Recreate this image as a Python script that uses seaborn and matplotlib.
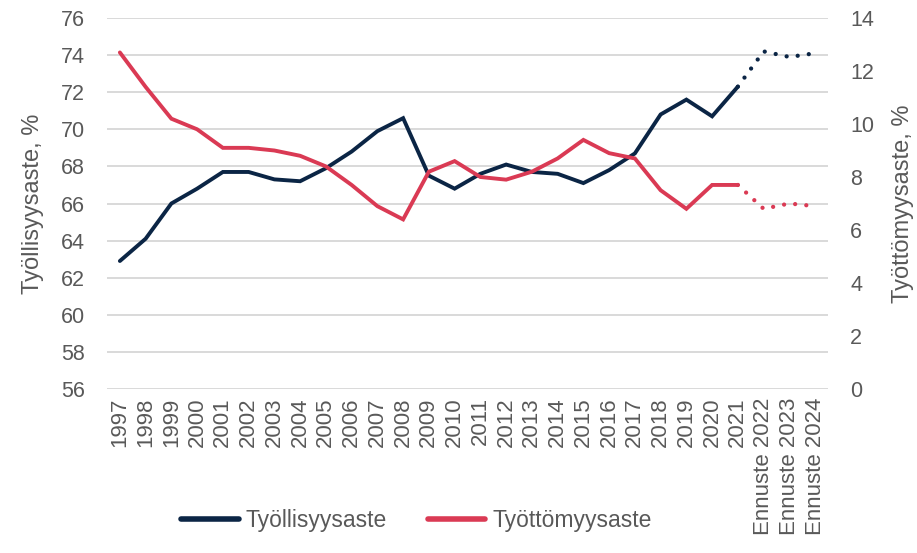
import matplotlib
matplotlib.use("Agg")
import matplotlib.pyplot as plt
from matplotlib.lines import Line2D
import seaborn as sns
import pandas as pd
import numpy as np

# ---- data ----
years = ["1997", "1998", "1999", "2000", "2001", "2002", "2003", "2004", "2005",
         "2006", "2007", "2008", "2009", "2010", "2011", "2012", "2013", "2014",
         "2015", "2016", "2017", "2018", "2019", "2020", "2021",
         "Ennuste 2022", "Ennuste 2023", "Ennuste 2024"]
employment = [62.9, 64.1, 66.0, 66.8, 67.7, 67.7, 67.3, 67.2, 67.9,
              68.8, 69.9, 70.6, 67.5, 66.8, 67.6, 68.1, 67.7, 67.6,
              67.1, 67.8, 68.7, 70.8, 71.6, 70.7, 72.3,
              74.2, 73.9, 74.1]
unemployment = [12.7, 11.4, 10.2, 9.8, 9.1, 9.1, 9.0, 8.8, 8.4,
                7.7, 6.9, 6.4, 8.2, 8.6, 8.0, 7.9, 8.2, 8.7,
                9.4, 8.9, 8.7, 7.5, 6.8, 7.7, 7.7,
                6.8, 7.0, 6.9]
n_actual = 25  # 1997..2021 measured, rest forecast
series_names = ["Työllisyysaste", "Työttömyysaste"]
left_label = "Työllisyysaste, %"
right_label = "Työttömyysaste, %"

navy = "#0b2545"
red = "#da3a54"
txt = "#595959"

sns.set_theme(style="white")
plt.rcParams['font.family'] = ['Liberation Sans', 'DejaVu Sans']

df = pd.DataFrame({"x": np.arange(len(years)), "emp": employment, "unemp": unemployment})
act = df.iloc[:n_actual]
fc = df.iloc[n_actual - 1:]

fig = plt.figure(figsize=(9.17, 5.53), dpi=100)
ax = fig.add_axes([107 / 917, 1 - 389 / 553, (828 - 107) / 917, (389 - 18) / 553])
ax2 = ax.twinx()

lw = 2.8
dots = (0, (0.001, 2.6))
sns.lineplot(data=act, x="x", y="emp", ax=ax, color=navy, lw=lw,
             solid_capstyle="round", solid_joinstyle="miter")
sns.lineplot(data=fc, x="x", y="emp", ax=ax, color=navy, lw=lw + 0.3,
             linestyle=dots, dash_capstyle="round")
sns.lineplot(data=act, x="x", y="unemp", ax=ax2, color=red, lw=lw,
             solid_capstyle="round", solid_joinstyle="miter")
sns.lineplot(data=fc, x="x", y="unemp", ax=ax2, color=red, lw=lw + 0.3,
             linestyle=dots, dash_capstyle="round")

ax.set_xlim(-0.5, len(years) - 0.5)
ax.set_ylim(56, 76)
ax2.set_ylim(0, 14)
ax.set_yticks(np.arange(56, 77, 2))
ax2.set_yticks(np.arange(0, 15, 2))
ax.set_xticks(df["x"])
ax.set_xticklabels(years, rotation=90, fontsize=16, color=txt)
ax.tick_params(axis="x", length=0, pad=6)
ax.tick_params(axis="y", length=0, pad=16, labelsize=15.5, labelcolor=txt)
ax2.tick_params(axis="y", length=0, pad=16, labelsize=15.5, labelcolor=txt)

ax.yaxis.grid(True, color="#d9d9d9", lw=1.4)
ax.xaxis.grid(False)
ax2.grid(False)
for a in (ax, ax2):
    for s in a.spines.values():
        s.set_visible(False)

ax.set_xlabel("")
ax.set_ylabel(left_label, fontsize=17, color=txt, labelpad=12)
ax2.set_ylabel(right_label, fontsize=17, color=txt, labelpad=13)

handles = [Line2D([0], [0], color=navy, lw=4, solid_capstyle="round"),
           Line2D([0], [0], color=red, lw=4, solid_capstyle="round")]
leg = fig.legend(handles, series_names, loc="center", bbox_to_anchor=(0.454, 1 - 521 / 553),
                 ncol=2, frameon=False, fontsize=16.5, handlelength=2.5,
                 handletextpad=0.3, columnspacing=1.8)
for t in leg.get_texts():
    t.set_color(txt)

fig.savefig("out.png", dpi=100)
